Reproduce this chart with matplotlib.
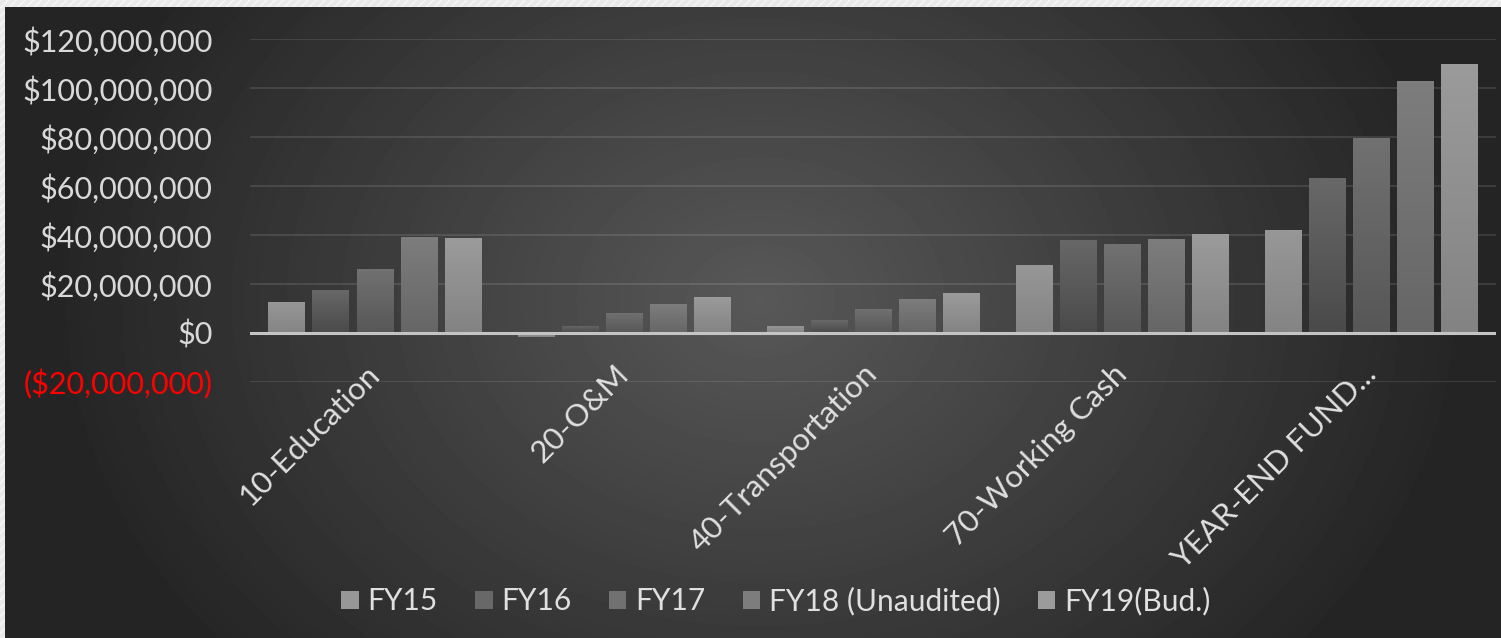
import numpy as np
import matplotlib.pyplot as plt
from matplotlib.patches import Patch, Rectangle
from matplotlib.colors import LinearSegmentedColormap
from matplotlib.ticker import FuncFormatter

plt.rcParams['font.family'] = ['Lato', 'DejaVu Sans']

categories = ['10-Education', '20-O&M', '40-Transportation', '70-Working Cash', 'YEAR-END FUND...']
series = ['FY15', 'FY16', 'FY17', 'FY18 (Unaudited)', 'FY19(Bud.)']
values = {
    'FY15': [12.7e6, -1.5e6, 2.9e6, 27.8e6, 42.0e6],
    'FY16': [17.6e6, 2.9e6, 5.3e6, 38.0e6, 63.3e6],
    'FY17': [26.1e6, 8.2e6, 9.8e6, 36.3e6, 79.6e6],
    'FY18 (Unaudited)': [39.2e6, 11.8e6, 13.9e6, 38.4e6, 102.9e6],
    'FY19(Bud.)': [38.8e6, 14.7e6, 16.3e6, 40.4e6, 109.8e6],
}
yticks = [-20e6, 0, 20e6, 40e6, 60e6, 80e6, 100e6, 120e6]

# (top, bottom) gradient colours per series
shades = [('#979797', '#848484'), ('#686868', '#4a4a4a'), ('#717171', '#575757'),
          ('#7d7d7d', '#666666'), ('#9b9b9b', '#838383')]

W, H = 1501, 638
fig = plt.figure(figsize=(W / 100, H / 100), dpi=100)

# radial background
bg = fig.add_axes([0, 0, 1, 1])
yy, xx = np.mgrid[0:H, 0:W]
r = np.sqrt(((xx - 760) / 720.0) ** 2 + ((yy - 300) / 560.0) ** 2)
v = 36 + (88 - 36) * np.clip(1 - r, 0, 1) ** 1.0
bg.imshow(v, cmap='gray', vmin=0, vmax=255, aspect='auto', extent=(0, 1, 0, 1), origin='upper')
bg.set_xlim(0, 1)
bg.set_ylim(0, 1)
bg.axis('off')
# light hatched border of the screenshot
bg.add_patch(Rectangle((0, 1 - 7 / H), 1, 7 / H, facecolor='#e9e9e9', edgecolor='#f7f7f7',
                       hatch='////', lw=0))
bg.add_patch(Rectangle((0, 0), 5 / W, 1, facecolor='#e9e9e9', edgecolor='#f7f7f7',
                       hatch='////', lw=0))

ax = fig.add_axes([250 / W, 1 - 382 / H, 1246 / W, (382 - 39) / H])
ax.set_facecolor('none')

x = np.arange(len(categories))
step = 0.1767
width = 0.145
for i, s in enumerate(series):
    bars = ax.bar(x + (i - 2) * step, values[s], width, color=shades[i][0], zorder=3)
    cmap = LinearSegmentedColormap.from_list('g%d' % i, [shades[i][1], shades[i][0]])
    for b in bars:
        x0, y0 = b.get_x(), b.get_y()
        x1, y1 = x0 + b.get_width(), y0 + b.get_height()
        grad = np.linspace(0, 1, 64).reshape(-1, 1)
        im = ax.imshow(grad, cmap=cmap, aspect='auto', origin='lower',
                       extent=(x0, x1, min(y0, y1), max(y0, y1)), zorder=4)
        im.set_clip_path(b)

ax.set_xlim(-0.5, len(categories) - 0.5)
ax.set_ylim(-20e6, 120e6)
ax.set_yticks(yticks)


def money(val, pos):
    if val < 0:
        return '(${:,.0f})'.format(-val)
    return '${:,.0f}'.format(val)


ax.yaxis.set_major_formatter(FuncFormatter(money))
ax.grid(axis='y', color='#ffffff', alpha=0.12, lw=1.3, zorder=0)
ax.axhline(0, color='#c4c4c4', lw=2.2, zorder=5)
for sp in ax.spines.values():
    sp.set_visible(False)
ax.tick_params(axis='y', length=0, pad=27, labelsize=22, labelcolor='#d9d9d9')
ax.tick_params(axis='x', length=0, pad=-9)
for lab in ax.get_yticklabels():
    if lab.get_text().startswith('('):
        lab.set_color('#ff0000')
ax.set_xticks(x)
ax.set_xticklabels(categories, rotation=45, ha='right', va='center', rotation_mode='anchor',
                   fontsize=22.5, color='#e0e0e0')

handles = [Patch(facecolor=shades[i][0], edgecolor='none') for i in range(len(series))]
fig.legend(handles, series, loc='center', bbox_to_anchor=(0.517, 0.058), ncol=5,
           frameon=False, fontsize=21.5, labelcolor='#e0e0e0', handlelength=0.58,
           handleheight=0.58, handletextpad=0.3, columnspacing=1.25)

fig.savefig('out.png', dpi=100)
